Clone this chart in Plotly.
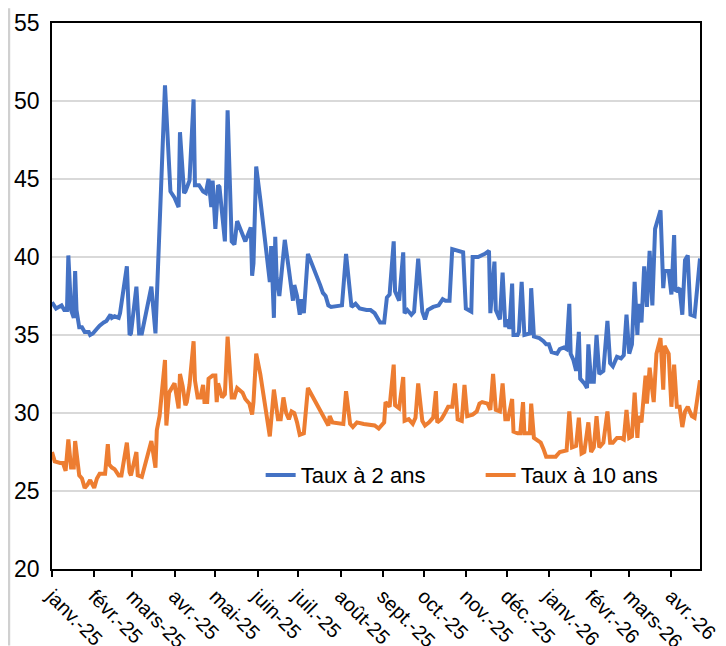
import plotly.graph_objects as go

# ---- Data ----
month_ticks = ["2025-01-01", "2025-02-01", "2025-03-01", "2025-04-01", "2025-05-01", "2025-06-01",
               "2025-07-01", "2025-08-01", "2025-09-01", "2025-10-01", "2025-11-01", "2025-12-01",
               "2026-01-01", "2026-02-01", "2026-03-01", "2026-04-01"]
month_labels = ["janv.-25", "févr.-25", "mars-25", "avr.-25", "mai-25", "juin-25", "juil.-25",
                "août-25", "sept.-25", "oct.-25", "nov.-25", "déc.-25", "janv.-26", "févr.-26",
                "mars-26", "avr.-26"]

dates_2y = ["2025-01-01", "2025-01-04", "2025-01-08", "2025-01-10", "2025-01-12", "2025-01-13", "2025-01-15",
            "2025-01-17", "2025-01-18", "2025-01-19", "2025-01-21", "2025-01-23", "2025-01-25", "2025-01-28",
            "2025-01-29", "2025-01-31", "2025-02-03", "2025-02-05", "2025-02-08", "2025-02-10", "2025-02-13",
            "2025-02-14", "2025-02-16", "2025-02-19", "2025-02-20", "2025-02-22", "2025-02-25", "2025-02-27",
            "2025-02-28", "2025-03-04", "2025-03-06", "2025-03-08", "2025-03-15", "2025-03-18", "2025-03-20",
            "2025-03-22", "2025-03-25", "2025-03-29", "2025-04-01", "2025-04-04", "2025-04-05", "2025-04-08",
            "2025-04-09", "2025-04-12", "2025-04-15", "2025-04-16", "2025-04-19", "2025-04-22", "2025-04-24",
            "2025-04-26", "2025-04-28", "2025-04-29", "2025-05-01", "2025-05-03", "2025-05-04", "2025-05-08",
            "2025-05-10", "2025-05-13", "2025-05-15", "2025-05-17", "2025-05-20", "2025-05-23", "2025-05-27",
            "2025-05-28", "2025-05-29", "2025-05-31", "2025-06-03", "2025-06-10", "2025-06-11", "2025-06-13",
            "2025-06-14", "2025-06-15", "2025-06-17", "2025-06-21", "2025-06-24", "2025-06-27", "2025-06-28",
            "2025-06-30", "2025-07-02", "2025-07-03", "2025-07-05", "2025-07-08", "2025-07-17", "2025-07-19",
            "2025-07-21", "2025-07-23", "2025-07-25", "2025-08-02", "2025-08-05", "2025-08-09", "2025-08-12",
            "2025-08-15", "2025-08-20", "2025-08-23", "2025-08-26", "2025-08-28", "2025-08-30", "2025-09-02",
            "2025-09-04", "2025-09-06", "2025-09-09", "2025-09-10", "2025-09-13", "2025-09-16", "2025-09-17",
            "2025-09-19", "2025-09-22", "2025-09-24", "2025-09-27", "2025-09-30", "2025-10-02", "2025-10-04",
            "2025-10-08", "2025-10-12", "2025-10-15", "2025-10-17", "2025-10-20", "2025-10-22", "2025-10-25",
            "2025-10-30", "2025-11-01", "2025-11-05", "2025-11-06", "2025-11-10", "2025-11-15", "2025-11-18",
            "2025-11-19", "2025-11-22", "2025-11-23", "2025-11-26", "2025-11-28", "2025-11-30", "2025-12-01",
            "2025-12-03", "2025-12-05", "2025-12-06", "2025-12-09", "2025-12-10", "2025-12-12", "2025-12-14",
            "2025-12-18", "2025-12-19", "2025-12-21", "2025-12-25", "2025-12-28", "2025-12-30", "2026-01-01",
            "2026-01-03", "2026-01-07", "2026-01-09", "2026-01-12", "2026-01-14", "2026-01-16", "2026-01-17",
            "2026-01-19", "2026-01-21", "2026-01-23", "2026-01-24", "2026-01-27", "2026-01-29", "2026-01-30",
            "2026-02-01", "2026-02-03", "2026-02-05", "2026-02-07", "2026-02-10", "2026-02-13", "2026-02-15",
            "2026-02-17", "2026-02-20", "2026-02-23", "2026-02-25", "2026-02-27", "2026-03-01", "2026-03-03",
            "2026-03-05", "2026-03-07", "2026-03-08", "2026-03-10", "2026-03-12", "2026-03-14", "2026-03-16",
            "2026-03-18", "2026-03-20", "2026-03-24", "2026-03-26", "2026-03-27", "2026-03-30", "2026-04-01",
            "2026-04-03", "2026-04-04", "2026-04-07", "2026-04-09", "2026-04-11", "2026-04-13", "2026-04-15",
            "2026-04-18", "2026-04-22"]
taux_2y = [37.1, 36.7, 36.9, 36.6, 36.6, 40.1, 36.6,
           36.1, 39.1, 36.6, 35.5, 35.5, 35.2, 35.2,
           35.0, 35.1, 35.4, 35.6, 35.8, 35.9, 36.3,
           36.1, 36.2, 36.1, 36.4, 37.5, 39.4, 35.0,
           35.1, 38.1, 35.1, 35.1, 38.1, 35.1, 40.1,
           45.0, 51.0, 44.2, 43.8, 43.2, 48.0, 44.1,
           44.2, 44.9, 50.1, 44.6, 44.6, 44.2, 44.1,
           45.0, 43.2, 44.9, 41.8, 44.6, 44.5, 41.0,
           49.4, 41.0, 40.8, 42.3, 41.6, 41.0, 41.9,
           38.8, 39.6, 45.8, 43.7, 38.4, 40.7, 36.1,
           41.3, 38.7, 37.5, 41.1, 39.2, 37.2, 38.2,
           37.5, 36.3, 37.3, 36.4, 40.2, 38.2, 37.7,
           37.5, 36.9, 36.8, 36.9, 40.2, 36.8, 37.0,
           36.7, 36.6, 36.6, 36.4, 36.1, 35.8, 35.8,
           37.4, 37.6, 41.0, 37.8, 37.2, 40.3, 36.4,
           36.6, 36.3, 36.5, 39.9, 36.5, 36.0, 36.6,
           36.8, 36.9, 37.3, 37.2, 37.2, 40.5, 40.4,
           40.3, 36.7, 36.5, 40.0, 40.0, 40.2, 40.4,
           36.4, 39.7, 36.6, 36.0, 39.0, 35.5, 36.0,
           35.4, 38.3, 35.0, 35.0, 35.2, 38.4, 35.0,
           35.1, 38.0, 34.9, 34.8, 34.6, 34.4, 34.4,
           33.9, 33.8, 34.1, 34.2, 34.1, 37.0, 33.8,
           33.4, 32.7, 35.2, 32.2, 31.9, 31.6, 34.4,
           32.0, 32.0, 35.0, 32.5, 32.7, 35.9, 33.2,
           33.0, 33.6, 33.5, 33.7, 36.3, 33.8, 34.4,
           38.4, 35.0, 37.0, 35.8, 39.4, 36.8, 40.4,
           36.9, 41.8, 43.0, 38.0, 39.1, 39.1, 37.6,
           41.4, 37.8, 38.0, 36.3, 39.8, 40.1, 36.3,
           36.2, 39.9]

dates_10y = ["2025-01-01", "2025-01-03", "2025-01-07", "2025-01-09", "2025-01-11", "2025-01-13", "2025-01-15",
             "2025-01-17", "2025-01-18", "2025-01-20", "2025-01-21", "2025-01-23", "2025-01-25", "2025-01-27",
             "2025-01-29", "2025-02-01", "2025-02-03", "2025-02-05", "2025-02-08", "2025-02-09", "2025-02-11",
             "2025-02-12", "2025-02-14", "2025-02-16", "2025-02-19", "2025-02-21", "2025-02-25", "2025-02-27",
             "2025-02-28", "2025-03-04", "2025-03-05", "2025-03-08", "2025-03-15", "2025-03-18", "2025-03-19",
             "2025-03-21", "2025-03-25", "2025-03-26", "2025-03-28", "2025-03-30", "2025-04-01", "2025-04-04",
             "2025-04-05", "2025-04-07", "2025-04-09", "2025-04-10", "2025-04-12", "2025-04-15", "2025-04-16",
             "2025-04-18", "2025-04-20", "2025-04-22", "2025-04-23", "2025-04-25", "2025-04-26", "2025-04-29",
             "2025-05-01", "2025-05-02", "2025-05-03", "2025-05-06", "2025-05-08", "2025-05-10", "2025-05-13",
             "2025-05-15", "2025-05-17", "2025-05-21", "2025-05-23", "2025-05-26", "2025-05-28", "2025-05-29",
             "2025-05-31", "2025-06-03", "2025-06-10", "2025-06-13", "2025-06-16", "2025-06-18", "2025-06-20",
             "2025-06-22", "2025-06-24", "2025-06-26", "2025-06-28", "2025-06-30", "2025-07-02", "2025-07-05",
             "2025-07-08", "2025-07-23", "2025-07-24", "2025-07-26", "2025-08-03", "2025-08-05", "2025-08-08",
             "2025-08-10", "2025-08-13", "2025-08-18", "2025-08-23", "2025-08-26", "2025-08-29", "2025-09-02",
             "2025-09-03", "2025-09-06", "2025-09-09", "2025-09-10", "2025-09-13", "2025-09-16", "2025-09-17",
             "2025-09-20", "2025-09-23", "2025-09-25", "2025-09-27", "2025-09-30", "2025-10-02", "2025-10-05",
             "2025-10-08", "2025-10-10", "2025-10-11", "2025-10-14", "2025-10-16", "2025-10-19", "2025-10-22",
             "2025-10-24", "2025-10-26", "2025-10-29", "2025-10-31", "2025-11-02", "2025-11-06", "2025-11-09",
             "2025-11-11", "2025-11-13", "2025-11-17", "2025-11-19", "2025-11-21", "2025-11-23", "2025-11-26",
             "2025-11-28", "2025-11-30", "2025-12-02", "2025-12-05", "2025-12-06", "2025-12-09", "2025-12-11",
             "2025-12-13", "2025-12-14", "2025-12-18", "2025-12-19", "2025-12-21", "2025-12-24", "2025-12-26",
             "2025-12-28", "2025-12-30", "2026-01-02", "2026-01-06", "2026-01-09", "2026-01-12", "2026-01-14",
             "2026-01-16", "2026-01-18", "2026-01-21", "2026-01-23", "2026-01-25", "2026-01-27", "2026-01-30",
             "2026-02-01", "2026-02-03", "2026-02-05", "2026-02-07", "2026-02-10", "2026-02-13", "2026-02-15",
             "2026-02-17", "2026-02-20", "2026-02-23", "2026-02-25", "2026-02-27", "2026-03-01", "2026-03-03",
             "2026-03-05", "2026-03-07", "2026-03-08", "2026-03-10", "2026-03-13", "2026-03-14", "2026-03-16",
             "2026-03-19", "2026-03-21", "2026-03-24", "2026-03-26", "2026-03-27", "2026-03-30", "2026-04-01",
             "2026-04-03", "2026-04-05", "2026-04-07", "2026-04-09", "2026-04-11", "2026-04-13", "2026-04-16",
             "2026-04-18", "2026-04-22"]
taux_10y = [27.5, 26.9, 26.8, 26.8, 26.3, 28.3, 26.5,
            26.5, 28.2, 26.8, 26.0, 25.8, 25.2, 25.4,
            25.7, 25.2, 25.8, 26.1, 26.1, 26.1, 28.0,
            26.7, 26.5, 26.4, 26.0, 26.0, 28.1, 26.2,
            26.0, 27.5, 26.0, 25.9, 28.2, 26.5, 28.9,
            29.8, 33.4, 29.2, 31.3, 31.6, 31.9, 30.3,
            32.5, 31.7, 30.5, 30.7, 31.8, 34.6, 32.1,
            31.0, 31.0, 31.8, 30.7, 30.7, 32.2, 32.4,
            32.4, 30.7, 31.9, 31.0, 31.2, 34.9, 31.0,
            31.0, 31.6, 31.3, 30.9, 30.6, 29.9, 30.7,
            33.8, 32.5, 28.5, 31.5, 29.6, 29.6, 31.0,
            30.0, 29.6, 30.1, 30.0, 29.4, 28.6, 28.7,
            31.6, 29.2, 29.8, 29.4, 29.3, 31.4, 29.3,
            29.1, 29.4, 29.3, 29.2, 29.2, 29.0, 29.4,
            30.7, 30.4, 33.1, 30.5, 30.3, 32.3, 29.5,
            29.6, 29.3, 29.7, 31.9, 29.5, 29.2, 29.4,
            29.7, 31.4, 29.4, 29.6, 29.9, 30.4, 30.4,
            31.9, 29.6, 29.5, 31.8, 29.8, 29.9, 30.1,
            30.6, 30.7, 30.6, 30.2, 32.5, 30.2, 30.1,
            31.9, 29.6, 29.6, 30.9, 28.8, 28.7, 28.7,
            30.7, 28.7, 28.7, 30.6, 28.4, 28.2, 28.1,
            27.7, 27.2, 27.2, 27.2, 27.5, 27.6, 27.6,
            30.1, 27.8, 27.9, 29.7, 27.4, 27.5, 29.4,
            27.5, 27.8, 29.8, 27.8, 28.1, 30.1, 28.1,
            28.1, 28.4, 28.4, 28.3, 30.2, 28.4, 28.5,
            31.3, 28.4, 29.8, 29.4, 32.4, 30.6, 32.9,
            30.7, 33.8, 34.8, 31.5, 34.3, 33.8, 30.4,
            33.1, 30.4, 30.4, 29.1, 30.1, 30.4, 29.8,
            29.7, 32.1]

# ---- Figure ----
FONT = "Liberation Sans, Arial, sans-serif"
fig = go.Figure()
fig.add_trace(go.Scatter(x=dates_2y, y=taux_2y, mode="lines", name="Taux à 2 ans",
                         line=dict(color="#4472C4", width=4)))
fig.add_trace(go.Scatter(x=dates_10y, y=taux_10y, mode="lines", name="Taux à 10 ans",
                         line=dict(color="#ED7D31", width=4)))

fig.update_layout(
    width=718, height=638,
    margin=dict(l=44, r=26, t=15, b=77),
    paper_bgcolor="white", plot_bgcolor="white",
    font=dict(family=FONT, size=20, color="#000000"),
    showlegend=True,
    legend=dict(orientation="h", x=0.322, y=0.172, xanchor="left", yanchor="middle",
                entrywidth=175, entrywidthmode="pixels",
                bgcolor="rgba(0,0,0,0)", font=dict(size=22, family=FONT, color="#000000")),
    xaxis=dict(type="date", range=["2025-01-01", "2026-04-22"], automargin=False,
               tickvals=month_ticks, ticktext=month_labels, tickangle=45,
               ticks="outside", ticklen=6, tickwidth=1.5, tickcolor="#000000",
               showline=True, linecolor="#000000", linewidth=1.5, mirror=True,
               showgrid=False, zeroline=False, tickfont=dict(size=20, family=FONT)),
    yaxis=dict(range=[20, 55], dtick=5, tick0=20, showgrid=True, gridcolor="#D9D9D9", gridwidth=1.5,
               showline=True, linecolor="#000000", linewidth=1.5, mirror=True, automargin=False,
               ticks="", zeroline=False, ticklabelstandoff=6,
               tickfont=dict(size=23, family=FONT)),
    shapes=[dict(type="line", xref="paper", yref="paper", x0=-0.0664, x1=-0.0664, y0=-0.14, y1=1.027,
                 line=dict(color="#D0D0D0", width=2.5))],
)

fig.write_html("out.html")
